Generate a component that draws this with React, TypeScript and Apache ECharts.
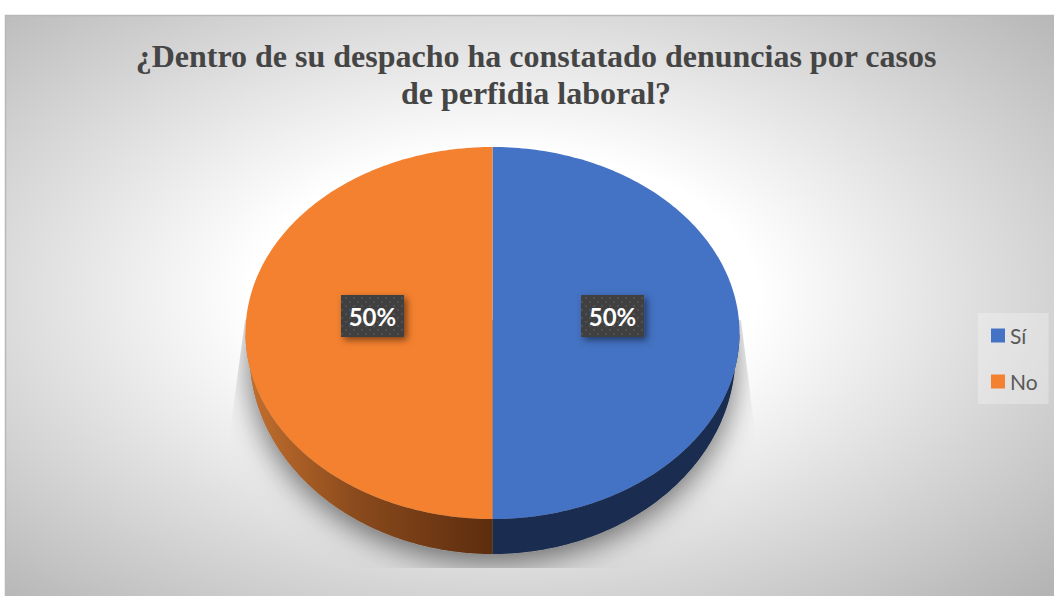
import React, { useEffect, useRef } from "react";
import * as echarts from "echarts";

const titleText = "¿Dentro de su despacho ha constatado denuncias por casos\nde perfidia laboral?";
const categories = ["Sí", "No"];
const values = [50, 50];

const topColors = ["#4472c4", "#f4812f"];
const CX = 492.5, CY = 333, RX = 247, RY = 186;
const BASE_CY = 354, BASE_RX = 243, BASE_RY = 200;
const total = values.reduce((a, b) => a + b, 0);

const arc = (a0: number, a1: number, cy = CY, rx = RX, ry = RY): number[][] => {
  const n = Math.max(2, Math.ceil((Math.abs(a1 - a0) * 180) / Math.PI));
  const out: number[][] = [];
  for (let i = 0; i <= n; i++) {
    const a = a0 + ((a1 - a0) * i) / n;
    out.push([CX + rx * Math.cos(a), cy + ry * Math.sin(a)]);
  }
  return out;
};

function wallFill(i: number): any {
  if (i === 0) return "#1a2c50";
  return new echarts.graphic.LinearGradient(0, 0, 1, 0, [
    { offset: 0, color: "#c4702e" },
    { offset: 0.45, color: "#8a4a1c" },
    { offset: 1, color: "#5c2d0e" },
  ]);
}

function dotPattern(): any {
  const c = document.createElement("canvas");
  c.width = 8;
  c.height = 8;
  const g = c.getContext("2d")!;
  g.fillStyle = "#404040";
  g.fillRect(0, 0, 8, 8);
  g.fillStyle = "#565656";
  for (const [x, y] of [[2, 2], [6, 6]]) {
    g.beginPath();
    g.arc(x, y, 1.1, 0, Math.PI * 2);
    g.fill();
  }
  return { image: c, repeat: "repeat" };
}

const sliceRender = (i: number, pattern: any) => (_p: any, api: any) => {
  const before = values.slice(0, i).reduce((a, b) => a + b, 0);
  const share = api.value(0) / total;
  const a0 = -Math.PI / 2 + (before / total) * 2 * Math.PI;
  const a1 = a0 + share * 2 * Math.PI;
  const children: any[] = [];
  const w0 = Math.max(a0, 0), w1 = Math.min(a1, Math.PI);
  if (w1 > w0) {
    children.push({
      type: "polygon",
      shape: { points: [...arc(w0, w1), ...arc(w1, w0, BASE_CY, BASE_RX, BASE_RY)] },
      style: { fill: wallFill(i) },
    });
  }
  children.push({
    type: "polygon",
    shape: { points: [[CX, CY], ...arc(a0, a1)] },
    style: { fill: topColors[i] },
  });
  const mid = (a0 + a1) / 2;
  const lx = CX + RX * 0.486 * Math.cos(mid);
  const ly = CY - 17;
  children.push({
    type: "rect",
    shape: { x: lx - 31.5, y: ly - 21, width: 63, height: 42 },
    style: {
      fill: pattern,
      shadowBlur: 7,
      shadowOffsetX: 3,
      shadowOffsetY: 3,
      shadowColor: "rgba(0,0,0,0.5)",
    },
  });
  children.push({
    type: "text",
    style: {
      text: `${Math.round(share * 100)}%`,
      x: lx,
      y: ly,
      align: "center",
      verticalAlign: "middle",
      fill: "#ffffff",
      fontFamily: "Lato",
      fontWeight: "bold",
      fontSize: 24,
    },
  });
  return { type: "group", children };
};

export default function App() {
  const ref = useRef<HTMLDivElement>(null);
  useEffect(() => {
    const chart = echarts.init(ref.current!, null, { renderer: "svg" });
    const pattern = dotPattern();
    chart.setOption({
      animation: false,
      title: {
        text: titleText,
        left: 531,
        top: 32,
        textAlign: "center",
        textStyle: {
          fontFamily: "Liberation Serif",
          fontWeight: "bold",
          fontSize: 32,
          lineHeight: 37,
          color: "#454545",
        },
      },
      legend: {
        data: categories,
        orient: "vertical",
        left: 978,
        top: 313,
        padding: [12, 11, 12, 13],
        itemGap: 25,
        itemWidth: 14,
        itemHeight: 14,
        icon: "rect",
        selectedMode: false,
        backgroundColor: "rgba(255,255,255,0.28)",
        textStyle: { fontFamily: "Lato", fontSize: 21, color: "#595959" },
      },
      graphic: [
        {
          type: "rect",
          z: 0,
          shape: { x: 5.5, y: 15.5, width: 1060, height: 590 },
          style: {
            stroke: "#b8b8b8",
            lineWidth: 1.5,
            fill: new echarts.graphic.RadialGradient(0.47, 0.47, 0.72, [
              { offset: 0, color: "#ffffff" },
              { offset: 0.33, color: "#ffffff" },
              { offset: 1, color: "#b4b4b4" },
            ]),
          },
        },
      ],
      series: [
        {
          type: "custom",
          name: "sombra",
          coordinateSystem: "none",
          silent: true,
          z: 1,
          data: [1],
          renderItem: () => ({
            type: "ellipse",
            shape: { cx: CX, cy: BASE_CY, rx: BASE_RX, ry: BASE_RY },
            style: {
              fill: "#888888",
              shadowBlur: 30,
              shadowOffsetY: 8,
              shadowColor: "rgba(0,0,0,0.55)",
            },
            clipPath: {
              type: "polygon",
              shape: { points: [[245, 320], [230, 432], [230, 568], [755, 568], [755, 432], [741, 320]] },
            },
          }),
        },
        ...categories.map((name, i) => ({
          type: "custom",
          name,
          coordinateSystem: "none",
          z: 3,
          itemStyle: { color: topColors[i] },
          data: [values[i]],
          renderItem: sliceRender(i, pattern),
        })),
      ],
    } as any);
    return () => chart.dispose();
  }, []);
  return <div ref={ref} style={{ position: "absolute", left: 0, top: 0, width: 1054, height: 596 }} />;
}
